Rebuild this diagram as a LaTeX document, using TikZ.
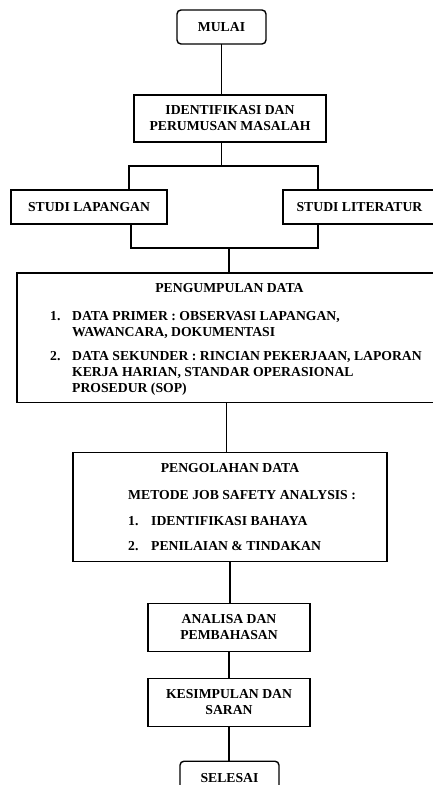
\documentclass[tikz,border=0pt]{standalone}
\usepackage{fontspec}
\setmainfont{Liberation Serif}
\usetikzlibrary{positioning}
\newcommand{\flowfont}{\fontsize{13.7}{16}\selectfont\bfseries}
\tikzset{
    stepbox/.style={rectangle, draw=black, line width=1.4pt, inner sep=0pt, outer sep=0pt,
        align=center, font=\flowfont},
    endbox/.style={stepbox, rounded corners=4pt},
    txt/.style={inner sep=0pt, align=left, anchor=base west, font=\flowfont},
    txtblock/.style={txt, anchor=north west},
    link/.style={line width=1.4pt}
}

\begin{document}
\begin{tikzpicture}[x=1pt, y=-1pt]

    \useasboundingbox (0,0) rectangle (432,785);

    \node[endbox, minimum width=89pt, minimum height=34pt] (mulai) at (221.5,27) {MULAI};
    \node[stepbox, minimum width=192pt, minimum height=47pt, below=51pt of mulai, xshift=8.5pt] (identifikasi) {IDENTIFIKASI DAN\\PERUMUSAN MASALAH};

    \node[stepbox, minimum width=156pt, minimum height=34pt, below=48pt of identifikasi, xshift=-141pt] (lapangan) {STUDI LAPANGAN};
    \node[stepbox, minimum width=153pt, minimum height=34pt, below=48pt of identifikasi, xshift=129.5pt] (literatur) {STUDI LITERATUR};

    \node[stepbox, minimum width=419pt, minimum height=129.5pt, below=49pt of lapangan, xshift=137.5pt] (pengumpulan) {};
    \node[stepbox, minimum width=314pt, minimum height=108.7pt, below=50pt of pengumpulan, xshift=3.5pt] (pengolahan) {};

    \node[stepbox, minimum width=162pt, minimum height=48pt, below=42pt of pengolahan, xshift=-1pt] (analisa) {ANALISA DAN\\PEMBAHASAN};
    \node[stepbox, minimum width=162pt, minimum height=48pt, below=27pt of analisa] (kesimpulan) {KESIMPULAN DAN\\SARAN};
    \node[endbox, minimum width=99pt, minimum height=34pt, below=35pt of kesimpulan, xshift=0.5pt] (selesai) {SELESAI};

    % isi kotak pengumpulan data
    \node[txt, anchor=base] (kumpulJudul) at (229.5,292) {PENGUMPULAN DATA};
    \node[txt] (kumpulNo1) at (50,320) {1.};
    \node[txtblock] (kumpulIsi1) at (72,310.9) {DATA PRIMER : OBSERVASI LAPANGAN,\\WAWANCARA, DOKUMENTASI};
    \node[txt] (kumpulNo2) at (50,360) {2.};
    \node[txtblock] (kumpulIsi2) at (72,350.9) {DATA SEKUNDER : RINCIAN PEKERJAAN, LAPORAN\\KERJA HARIAN, STANDAR OPERASIONAL\\PROSEDUR (SOP)};

    % isi kotak pengolahan data
    \node[txt, anchor=base] (olahJudul) at (230,472) {PENGOLAHAN DATA};
    \node[txt] (olahMetode) at (128,499) {METODE JOB SAFETY ANALYSIS :};
    \node[txt] (olahNo1) at (128,525.5) {1.};
    \node[txt] (olahIsi1) at (151,525.5) {IDENTIFIKASI BAHAYA};
    \node[txt] (olahNo2) at (128,550) {2.};
    \node[txt] (olahIsi2) at (151,550) {PENILAIAN \& TINDAKAN};

    \coordinate (forkL) at (129,166);
    \coordinate (forkR) at (318,166);
    \coordinate (joinL) at (131,248);
    \coordinate (joinR) at (318,248);
    \coordinate (joinM) at (229,248);

    \draw[link] (mulai.south) -- (mulai.south |- identifikasi.north);
    \draw[link] (mulai.south |- identifikasi.south) -- (mulai.south |- forkL);
    \draw[link] (forkL |- lapangan.north) -- (forkL) -- (forkR) -- (forkR |- literatur.north);
    \draw[link] (joinL |- lapangan.south) -- (joinL) -- (joinR) -- (joinR |- literatur.south);
    \draw[link] (joinM) -- (joinM |- pengumpulan.north);
    \foreach \a/\b in {pengumpulan/pengolahan, pengolahan/analisa, analisa/kesimpulan, kesimpulan/selesai}
        \draw[link] (\a.south) -- (\a.south |- \b.north);

\end{tikzpicture}
\end{document}
